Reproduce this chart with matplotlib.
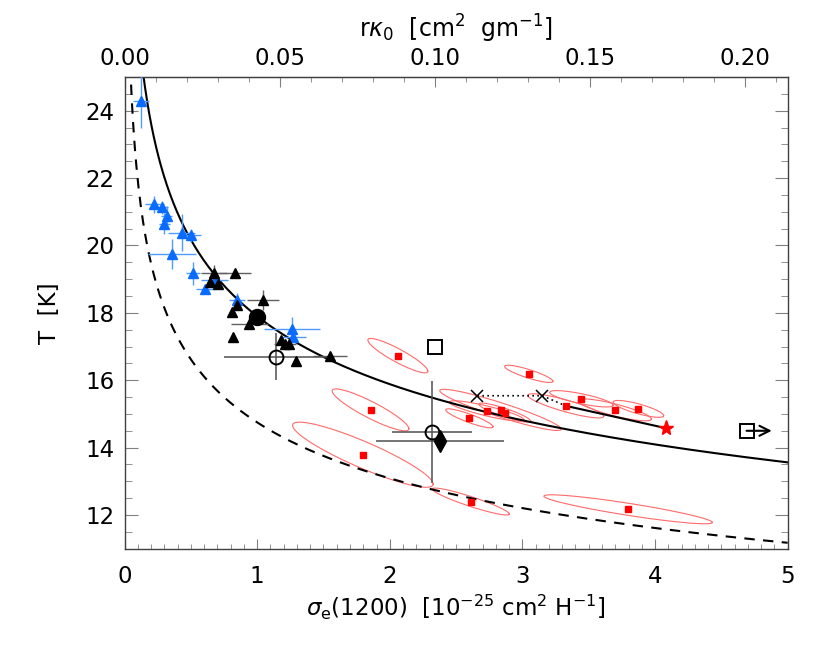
#!/usr/bin/python3

import numpy as np
import matplotlib
matplotlib.use('Agg')
from matplotlib import pyplot as plt
from matplotlib.ticker import MultipleLocator


# blue triangles: sigma, T, xerr, yerr
blue_sig  = [0.124, 0.225, 0.28, 0.318, 0.30, 0.431, 0.499, 0.356, 0.516, 0.609, 0.68, 0.845, 1.265, 1.272]
blue_T    = [24.30, 21.22, 21.13, 20.88, 20.65, 20.38, 20.30, 19.74, 19.17, 18.72, 18.98, 18.38, 17.52, 17.29]
blue_xerr = [0.06, 0.07, 0.05, 0.04, 0.04, 0.10, 0.08, 0.18, 0.05, 0.07, 0.10, 0.06, 0.21, 0.10]
blue_yerr = [0.80, 0.25, 0.20, 0.30, 0.30, 0.55, 0.20, 0.45, 0.35, 0.15, 0.20, 0.20, 0.35, 0.15]

# black triangles
blk_sig  = [0.675, 0.83, 0.644, 0.707, 0.845, 1.046, 0.808, 0.94, 0.815, 1.18, 1.21, 1.24, 1.29, 1.549]
blk_T    = [19.17, 19.19, 18.93, 18.86, 18.23, 18.38, 18.02, 17.66, 17.29, 17.20, 17.07, 17.07, 16.57, 16.72]
blk_xerr = [0.10, 0.12, 0.0, 0.0, 0.0, 0.12, 0.0, 0.14, 0.0, 0.0, 0.08, 0.0, 0.0, 0.13]
blk_yerr = [0.25, 0.0, 0.0, 0.0, 0.0, 0.30, 0.0, 0.0, 0.0, 0.0, 0.0, 0.0, 0.0, 0.0]

# red squares with their error ellipses (half length in sigma, slope in T, half thickness in T)
red_sig = [2.061, 1.855, 1.797, 2.611, 3.797, 3.048, 2.60, 2.73, 2.835, 2.867, 3.327, 3.445, 3.696, 3.875]
red_T   = [16.73, 15.12, 13.79, 12.40, 12.17, 16.19, 14.87, 15.09, 15.12, 15.04, 15.24, 15.45, 15.12, 15.15]
ell_ds  = [0.226, 0.289, 0.53, 0.29, 0.635, 0.182, 0.178, 0.28, 0.458, 0.195, 0.286, 0.239, 0.276, 0.19]
ell_dT  = [-0.46, -0.56, -0.87, -0.37, -0.39, -0.22, -0.25, -0.26, -0.57, -0.25, -0.31, -0.19, -0.27, -0.2]
ell_w   = [0.22, 0.27, 0.42, 0.15, 0.18, 0.13, 0.13, 0.15, 0.22, 0.13, 0.18, 0.15, 0.18, 0.15]

# single objects
fcirc_sig, fcirc_T = 1.0, 17.89
ocirc_sig  = [1.142, 2.32]
ocirc_T    = [16.70, 14.47]
ocirc_xerr = [0.39, 0.30]
ocirc_yerr = [0.70, 1.52]
diam_sig, diam_T, diam_xerr, diam_yerr = 2.378, 14.2, 0.48, 0.30
sq_sig, sq_T = 2.34, 17.0
sqlim_sig, sqlim_T, sqlim_end = 4.69, 14.5, 4.88
cross_sig = [2.66, 3.15]
cross_T   = [15.54, 15.54]
track_sig = [2.66, 3.15, 3.327]
track_T   = [15.54, 15.54, 15.24]
star_sig, star_T = 4.08, 14.58

# model curves  T = T1 * sigma^(-1/(4+beta))
beta = 1.8
T1_solid = 17.9
T1_dash  = 14.75

rk_per_sig = 0.2 / 4.68


##################################################################
plt.rcParams['font.family'] = 'DejaVu Sans'
plt.rcParams['mathtext.fontset'] = 'dejavusans'

fig = plt.figure(figsize=(8.3, 6.46), dpi=100)
ax = fig.add_axes([0.15, 0.1506, 0.799, 0.7302])

tick_col = '#808080'

s = np.linspace(0.03, 5.0, 600)
ax.plot(s, T1_solid * s ** (-1.0 / (4 + beta)), color='black', lw=1.5, zorder=2)
ax.plot(s, T1_dash * s ** (-1.0 / (4 + beta)), color='black', lw=1.5,
        linestyle=(0, (5, 4)), zorder=2)

t = np.linspace(0, 2 * np.pi, 100)
for i in range(len(red_sig)):
  ex = red_sig[i] + ell_ds[i] * np.cos(t)
  ey = red_T[i] + ell_dT[i] * np.cos(t) + ell_w[i] * np.sin(t)
  ax.plot(ex, ey, color='#ff6a6a', lw=0.8, zorder=1)

ax.plot(red_sig, red_T, linestyle='none', marker='s', ms=4.5,
        color='#ff0000', zorder=4)

ax.plot(track_sig, track_T, color='black', lw=1.2, linestyle=(0, (1, 2)), zorder=3)
ax.plot([track_sig[-1], star_sig], [track_T[-1], star_T], color='black', lw=1.5, zorder=3)
ax.plot(cross_sig, cross_T, linestyle='none', marker='x', ms=9, mew=1.1,
        color='black', zorder=4)
ax.plot(star_sig, star_T, linestyle='none', marker='*', ms=11, color='#ff0000', zorder=5)

ax.errorbar(blue_sig, blue_T, xerr=blue_xerr, yerr=blue_yerr, fmt='none',
            ecolor='#4f9bff', elinewidth=1.0, zorder=3)
ax.plot(blue_sig, blue_T, linestyle='none', marker='^', ms=7,
        color='#0a6cff', zorder=4)

ax.errorbar(blk_sig, blk_T, xerr=blk_xerr, yerr=blk_yerr, fmt='none',
            ecolor='#606060', elinewidth=1.0, zorder=3)
ax.plot(blk_sig, blk_T, linestyle='none', marker='^', ms=7,
        color='black', zorder=4)

ax.errorbar(ocirc_sig, ocirc_T, xerr=ocirc_xerr, yerr=ocirc_yerr, fmt='none',
            ecolor='#505050', elinewidth=1.1, zorder=3)
ax.plot(ocirc_sig, ocirc_T, linestyle='none', marker='o', ms=10,
        mfc='none', mec='black', mew=1.4, zorder=5)

ax.errorbar([diam_sig], [diam_T], xerr=[diam_xerr], yerr=[diam_yerr], fmt='none',
            ecolor='#505050', elinewidth=1.1, zorder=3)
ax.plot(diam_sig, diam_T, linestyle='none', marker='d', ms=11,
        color='black', zorder=5)

ax.plot(fcirc_sig, fcirc_T, linestyle='none', marker='o', ms=11.5,
        color='black', zorder=5)

ax.plot(sq_sig, sq_T, linestyle='none', marker='s', ms=9.5,
        mfc='none', mec='black', mew=1.4, zorder=5)
ax.plot(sqlim_sig, sqlim_T, linestyle='none', marker='s', ms=9.5,
        mfc='none', mec='black', mew=1.4, zorder=5)
ax.annotate('', xy=(sqlim_end, sqlim_T), xytext=(sqlim_sig, sqlim_T),
            arrowprops=dict(arrowstyle='->', color='black', lw=1.5,
                            shrinkA=0, shrinkB=0, mutation_scale=18))

ax.set_xlim(0, 5)
ax.set_ylim(11, 25)

ax.xaxis.set_major_locator(MultipleLocator(1))
ax.xaxis.set_minor_locator(MultipleLocator(0.1))
ax.yaxis.set_major_locator(MultipleLocator(2))
ax.yaxis.set_minor_locator(MultipleLocator(0.5))
ax.set_yticks([12, 14, 16, 18, 20, 22, 24])

ax.tick_params(axis='both', which='both', direction='in', color=tick_col,
               labelsize=16.5, top=False, right=True)
ax.tick_params(axis='x', which='major', length=7, pad=12)
ax.tick_params(axis='x', which='minor', length=3.5)
ax.tick_params(axis='y', which='major', length=9.5, pad=7)
ax.tick_params(axis='y', which='minor', length=5)
for sp in ax.spines.values():
  sp.set_color('#404040')
  sp.set_linewidth(1.0)

ax.set_xlabel(r'$\sigma_{\rm e}$(1200)  [10$^{-25}$ cm$^{2}$ H$^{-1}$]', fontsize=16.5, labelpad=3)
ax.set_ylabel('T  [K]', fontsize=16.5, labelpad=18)

top = ax.secondary_xaxis('top', functions=(lambda x: x * rk_per_sig,
                                           lambda x: x / rk_per_sig))
top.xaxis.set_major_locator(MultipleLocator(0.05))
top.xaxis.set_minor_locator(MultipleLocator(0.01))
top.set_xticks([0.0, 0.05, 0.10, 0.15, 0.20])
top.set_xticklabels(['0.00', '0.05', '0.10', '0.15', '0.20'])
top.tick_params(axis='x', which='both', direction='in', color=tick_col, labelsize=16.5)
top.tick_params(axis='x', which='major', length=7, pad=5)
top.tick_params(axis='x', which='minor', length=3.5)
top.spines['top'].set_color('#404040')
top.set_xlabel(r'r$\kappa_0$  [cm$^{2}$  gm$^{-1}$]', fontsize=17, labelpad=7)

plt.savefig('out.png', dpi=100)
